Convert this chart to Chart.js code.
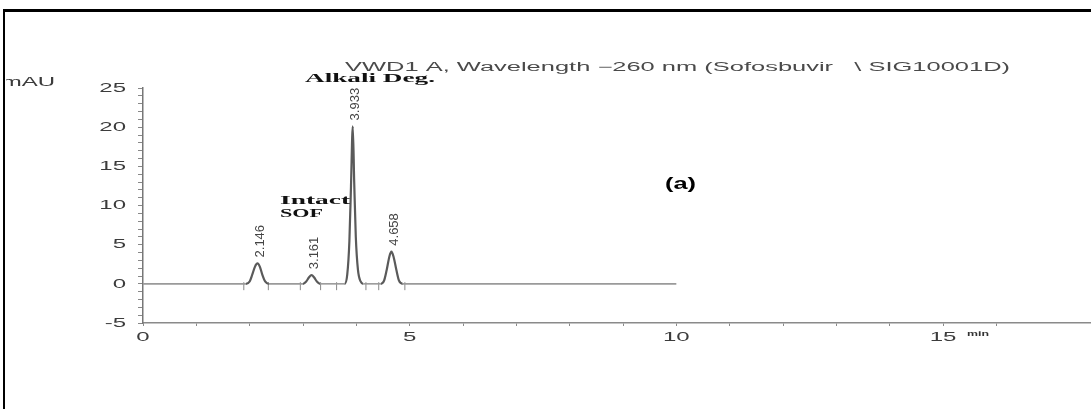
<!DOCTYPE html>
<html>
<head>
<meta charset="utf-8">
<script src="https://cdn.jsdelivr.net/npm/chart.js@4/dist/chart.umd.min.js"></script>
<style>
  html, body { margin: 0; padding: 0; background: #fff; }
  #wrap { position: relative; width: 1091px; height: 409px; }
  canvas { display: block; }
</style>
</head>
<body>
<div id="wrap"><canvas id="c" width="1091" height="409"></canvas></div>
<script>
// ---- data ----
const signalTime = [0, 1.93, 2.00, 2.05, 2.10, 2.146, 2.19, 2.24, 2.29, 2.36,
  3.00, 3.06, 3.11, 3.161, 3.21, 3.26, 3.32,
  3.78, 3.83, 3.87, 3.90, 3.933, 3.96, 3.99, 4.03, 4.08, 4.13,
  4.46, 4.52, 4.57, 4.62, 4.658, 4.70, 4.75, 4.80, 4.87, 10.0];
const signalMAU = [0, 0, 0.3, 1.2, 2.2, 2.6, 2.2, 1.1, 0.3, 0,
  0, 0.3, 0.8, 1.1, 0.8, 0.3, 0,
  0, 1.2, 5.5, 12.5, 20.1, 13.0, 6.0, 1.8, 0.3, 0,
  0, 0.4, 1.8, 3.5, 4.1, 3.4, 1.8, 0.4, 0, 0];
const peakTimes   = [2.146, 3.161, 3.933, 4.658];
const peakHeights = [2.6, 1.1, 20.1, 4.1];
const peakLabels  = ['2.146', '3.161', '3.933', '4.658'];
const markerTimes = [1.89, 2.35, 2.95, 3.33, 3.63, 4.18, 4.42, 4.91];
const xTickLabels = [0, 5, 10, 15];
const yTickLabels = [-5, 0, 5, 10, 15, 20, 25];
const titleText = 'VWD1 A, Wavelength \u2212260 nm (Sofosbuvir   \\ SIG10001D)';
const yUnit = 'mAU';
const xUnit = 'min';
const annoAlkali = 'Alkali Deg.';
const annoIntact = ['Intact', 'SOF'];
const panelTag = '(a)';

const annotate = {
  id: 'annotate',
  afterDraw(chart) {
    const ctx = chart.ctx, xs = chart.scales.x, ys = chart.scales.y;
    function fit(text, font, color, left, base, width) {
      ctx.save();
      ctx.font = font; ctx.fillStyle = color;
      ctx.textAlign = 'left'; ctx.textBaseline = 'alphabetic';
      const m = ctx.measureText(text).width;
      ctx.translate(left, base); ctx.scale(width / m, 1);
      ctx.fillText(text, 0, 0);
      ctx.restore();
    }
    function stretch(text, font, color, x, y, sx, align) {
      ctx.save();
      ctx.font = font; ctx.fillStyle = color;
      ctx.textAlign = align; ctx.textBaseline = 'middle';
      ctx.translate(x, y); ctx.scale(sx, 1);
      ctx.fillText(text, 0, 0);
      ctx.restore();
    }
    const tickFont = '12px "Liberation Sans", Arial';
    // y tick labels
    yTickLabels.forEach(v => stretch(String(v), tickFont, '#3c3c3c', 126, ys.getPixelForValue(v) + 0.5, 2.0, 'right'));
    // x tick labels
    xTickLabels.forEach(v => stretch(String(v), tickFont, '#3c3c3c', xs.getPixelForValue(v), 338, 2.0, 'center'));
    // title, units
    fit(titleText, '12px "Liberation Sans", Arial', '#4a4a4a', 345, 71, 665);
    ctx.save(); ctx.beginPath(); ctx.rect(6, 0, 200, 409); ctx.clip();
    stretch(yUnit, tickFont, '#3c3c3c', 55, 83, 2.0, 'right');
    ctx.restore();
    fit(xUnit, 'bold 7px "Liberation Sans", Arial', '#333', 967, 336, 22);
    // peak retention-time labels
    peakTimes.forEach((t, i) => {
      const px = xs.getPixelForValue(t) + 3;
      const py = ys.getPixelForValue(peakHeights[i]) - 6;
      ctx.save();
      ctx.font = '13px "Liberation Sans Narrow", "Liberation Sans", Arial';
      ctx.fillStyle = '#444';
      ctx.textAlign = 'left'; ctx.textBaseline = 'middle';
      ctx.translate(px, py); ctx.rotate(-Math.PI / 2);
      ctx.fillText(peakLabels[i], 0, 0);
      ctx.restore();
    });
    // annotations
    fit(annoAlkali, 'bold 12px "Liberation Serif", "Times New Roman", serif', '#111', 305, 82, 130);
    fit(annoIntact[0], 'bold 12px "Liberation Serif", "Times New Roman", serif', '#111', 280, 204, 70);
    fit(annoIntact[1], 'bold 12px "Liberation Serif", "Times New Roman", serif', '#111', 280, 217, 43);
    fit(panelTag, 'bold 16px "Liberation Sans", Arial', '#000', 665, 189, 31);
    // frame
    ctx.save(); ctx.fillStyle = '#000';
    ctx.fillRect(3, 9, 1088, 3);
    ctx.fillRect(3, 9, 2, 400);
    ctx.restore();
  }
};

const trace = signalTime.map((t, i) => ({ x: t, y: signalMAU[i] }));
const markers = markerTimes.map(t => ({ x: t, y: -0.3 }));

new Chart(document.getElementById('c'), {
  type: 'line',
  data: {
    datasets: [
      {
        data: trace,
        borderColor: '#5a5a5a',
        borderWidth: 2.2,
        pointRadius: 0,
        cubicInterpolationMode: 'monotone',
        segment: {
          borderColor: c => (c.p0.parsed.y === 0 && c.p1.parsed.y === 0) ? '#9a9a9a' : '#5a5a5a',
          borderWidth: c => (c.p0.parsed.y === 0 && c.p1.parsed.y === 0) ? 1.6 : 2.2
        }
      },
      {
        type: 'scatter',
        data: markers,
        pointStyle: 'line',
        rotation: 90,
        pointRadius: 4,
        borderColor: '#888',
        borderWidth: 1,
        showLine: false
      }
    ]
  },
  options: {
    responsive: false,
    devicePixelRatio: 1,
    animation: false,
    events: [],
    layout: { autoPadding: false, padding: { top: 88, left: 0, right: 0, bottom: 0 } },
    plugins: { legend: { display: false }, tooltip: { enabled: false }, title: { display: false } },
    scales: {
      x: {
        type: 'linear', min: 0, max: 17.775,
        ticks: { display: false, stepSize: 1 },
        afterBuildTicks: s => { s.ticks = s.ticks.filter(t => Number.isInteger(t.value)); },
        afterFit: s => { s.height = 86; },
        grid: { drawOnChartArea: false, drawTicks: true, tickLength: 3, color: '#8a8a8a' },
        border: { display: true, color: '#8a8a8a', width: 1.5 }
      },
      y: {
        type: 'linear', min: -5, max: 25,
        ticks: { display: false, stepSize: 1 },
        afterFit: s => { s.width = 143; },
        grid: { drawOnChartArea: false, drawTicks: true, tickLength: 5, color: '#888' },
        border: { display: true, color: '#777', width: 1.5 }
      }
    }
  },
  plugins: [annotate]
});
</script>
</body>
</html>
